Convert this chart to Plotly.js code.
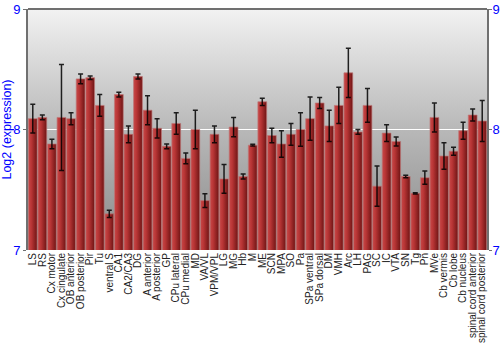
<!DOCTYPE html>
<html><head><meta charset="utf-8">
<script src="https://cdn.plot.ly/plotly-3.0.1.min.js"></script>
<style>body{margin:0;background:#fff}#chart{width:500px;height:350px}</style>
</head><body><div id="chart"></div>
<script>
const regions = ["LS","RS","Cx motor","Cx cingulate","OB anterior","OB posterior","Pir","Tu","ventral S","CA1","CA2/CA3","DG","A anterior","A posterior","GP","CPu lateral","CPu medial","MD","VA/VL","VPM/VPL","LG","MG","Hb","M","ME","SCN","MPA","SO","Pa","SPa ventral","SPa dorsal","DM","VMH","Arc","LH","PAG","SC","IC","VTA","SN","Tg","Pn","MVe","Cb vermis","Cb lobe","Cb nucleus","spinal cord anterior","spinal cord posterior"];
const expression = [8.09,8.10,7.88,8.10,8.09,8.42,8.43,8.20,7.30,8.29,7.96,8.44,8.16,8.01,7.86,8.05,7.76,8.00,7.41,7.96,7.59,8.02,7.61,7.87,8.23,7.95,7.88,7.96,8.00,8.09,8.22,8.03,8.20,8.47,7.98,8.20,7.53,7.97,7.90,7.61,7.47,7.60,8.10,7.78,7.82,7.99,8.12,8.07];
const errors = [0.12,0.02,0.04,0.44,0.05,0.04,0.015,0.09,0.03,0.02,0.07,0.02,0.12,0.08,0.02,0.09,0.045,0.16,0.057,0.07,0.12,0.08,0.02,0.007,0.03,0.06,0.11,0.09,0.14,0.18,0.045,0.13,0.15,0.205,0.02,0.14,0.167,0.07,0.037,0.01,0.005,0.055,0.12,0.11,0.033,0.07,0.05,0.17];
const yTicks = [7,8,9];

const trace = {
  type:'bar', x: regions, y: expression, base: 0,
  marker:{color:'#b03030', line:{color:'rgba(190,120,120,0.7)', width:1}},
  error_y:{type:'data', array: errors, visible:true, color:'rgba(0,0,0,0.85)', thickness:1.5, width:2.5},
  hoverinfo:'x+y'
};
const dummy = {type:'scatter', x:[regions[0]], y:[8], yaxis:'y2', mode:'markers', marker:{opacity:0, size:1}, hoverinfo:'skip', showlegend:false};

const layout = {
  width:500, height:350,
  margin:{l:28, r:13, t:9, b:100, autoexpand:false},
  paper_bgcolor:'#ffffff', plot_bgcolor:'#bbbbbb',
  showlegend:false, bargap:0.08,
  font:{family:'Arial, Liberation Sans, sans-serif'},
  xaxis:{range:[-0.5, regions.length-0.5], tickangle:-90, tickmode:'array', tickvals:regions, ticktext:regions, tickfont:{size:10, color:'#222'}, showline:false, ticks:'', showgrid:false, automargin:false, fixedrange:true},
  yaxis:{range:[7,9], tickvals:yTicks, ticktext:yTicks.map(String), tickfont:{size:13, color:'#0000ff'},
    showgrid:true, gridcolor:'#ffffff', gridwidth:1.5, zeroline:false,
    showline:true, linecolor:'#707070', linewidth:2, ticks:'outside', ticklen:3, tickcolor:'#707070',
    title:{text:'Log2 (expression)', font:{size:12.5, color:'#0000ff'}}, automargin:false},
  yaxis2:{range:[7,9], overlaying:'y', side:'right', tickvals:yTicks, ticktext:yTicks.map(String), tickfont:{size:13, color:'#0000ff'},
    ticklabelstandoff:-2,
    showgrid:false, zeroline:false, showline:true, linecolor:'#707070', linewidth:2, ticks:'outside', ticklen:3, tickcolor:'#707070', automargin:false},
  shapes:[{type:'line', xref:'paper', yref:'paper', x0:0, x1:1, y0:1, y1:1, line:{color:'#707070', width:2}}]
};

Plotly.newPlot('chart', [trace, dummy], layout, {displayModeBar:false, staticPlot:true}).then(gd => {
  const svg = gd.querySelector('svg.main-svg');
  const NS = 'http://www.w3.org/2000/svg';
  let defs = svg.querySelector('defs');
  if(!defs){defs = document.createElementNS(NS,'defs'); svg.insertBefore(defs, svg.firstChild);}
  function grad(id, x2, y2, stops){
    const g = document.createElementNS(NS,'linearGradient');
    g.setAttribute('id', id); g.setAttribute('x1','0'); g.setAttribute('y1','0');
    g.setAttribute('x2', x2); g.setAttribute('y2', y2);
    stops.forEach(([o,c]) => {const s=document.createElementNS(NS,'stop'); s.setAttribute('offset',o); s.setAttribute('stop-color',c); g.appendChild(s);});
    defs.appendChild(g);
  }
  grad('bgGrad','0','1',[['0','#f2f2f2'],['0.5','#b8b8b8'],['1','#8a8a8a']]);
  grad('barGrad','1','0',[['0','#c84848'],['0.35','#b83535'],['1','#6e1414']]);
  const bg = svg.querySelector('.bglayer rect.bg');
  if(bg) bg.style.fill = 'url(#bgGrad)';
  svg.querySelectorAll('.trace.bars .point path').forEach(p => { p.style.fill = 'url(#barGrad)'; });
});
</script></body></html>
